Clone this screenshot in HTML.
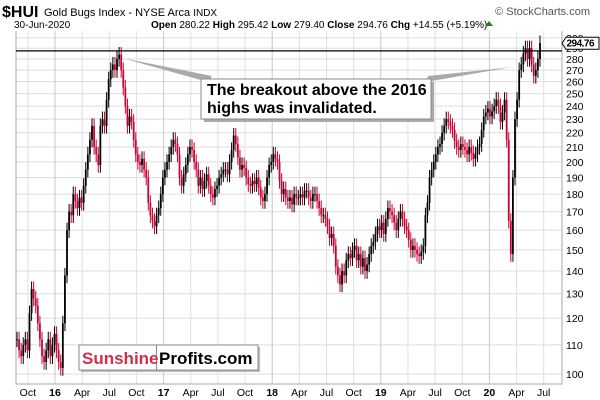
<!DOCTYPE html>
<html><head><meta charset="utf-8"><style>
body{margin:0;background:#fff;font-family:"Liberation Sans",sans-serif}
svg{display:block}
</style></head><body>
<svg id="c" width="600" height="400" font-family="Liberation Sans, sans-serif">
<text x="2" y="17" font-size="16" font-weight="bold">$HUI</text>
<text x="44" y="16" font-size="11">Gold Bugs Index - NYSE Arca <tspan font-size="10">INDX</tspan></text>
<text x="590" y="15" font-size="11" fill="#555" text-anchor="end">© StockCharts.com</text>
<text x="14" y="28" font-size="10">30-Jun-2020</text>
<text x="151" y="28" font-size="10"><tspan font-weight="bold">Open</tspan> 280.22 <tspan font-weight="bold">High</tspan> 295.42 <tspan font-weight="bold">Low</tspan> 279.40 <tspan font-weight="bold">Close</tspan> 294.76 <tspan font-weight="bold">Chg</tspan> +14.55 (+5.19%)</text>
<polygon points="485,26 489,21 493,26" fill="#2a7a2a"/>
<g id="grid"></g>
<g id="bars"></g>
<g id="axes"></g>
</svg>
<script>
const closes=[112,108,
106,110,112,108, 122,132,128,125,118, 112,106,104,108, 112,106,110,114,
108,104,102,118, 138,160,170,168, 180,176,172,178,175, 185,195,205,215, 225,210,205,198, 225,230,225,245, 262,270,275,270,280, 284,270,255,240, 225,232,228,215, 205,200,198,202,195, 190,175,168,165, 162,168,172,180,
190,195,200,205, 210,215,212,205, 190,185,192,198,205, 210,208,200,195, 185,190,183,188, 192,185,180,178,183, 185,190,192,195, 195,192,200,208, 218,212,203,195,198, 196,190,186,185, 188,186,190,184, 178,176,180,190,198,
200,205,202,200, 188,180,183,178, 176,178,174,180,178, 178,180,178,182, 182,178,176,180, 180,176,172,168,168, 166,162,156,158, 152,142,138,134,140, 138,145,148,146, 150,152,145,148, 142,146,140,143,148, 152,154,158,162,
160,164,158,166, 172,170,168,164, 160,166,170,166,162, 160,155,150,152, 150,148,147,149,152, 168,175,190,195, 200,205,210,212, 220,225,230,228,225, 222,214,210,208, 212,210,208,205, 210,206,202,205,210, 212,222,232,235,
238,232,236,240,245, 240,228,235,245, 215,165,148,190, 230,245,270,275, 285,290,280,290,275, 265,270,280,295];
const yTicks=[100,110,120,130,140,150,160,170,180,190,200,210,220,230,240,250,260,270,280,290,300];
const xTickDates=[-0.25,0,0.25,0.5,0.75,1,1.25,1.5,1.75,2,2.25,2.5,2.75,3,3.25,3.5,3.75,4,4.25,4.5];
const xTickLabels=["Oct","16","Apr","Jul","Oct","17","Apr","Jul","Oct","18","Apr","Jul","Oct","19","Apr","Jul","Oct","20","Apr","Jul"];
const lastClose=294.76, resistance=287.5;

const NS="http://www.w3.org/2000/svg";
const L=16,R=562,T=31,B=384;
const y=v=>374-306*Math.log(v/100);
const xd=d=>55+d*108.6;
const xi=i=>17+i*(540-17)/(closes.length-1);
function mk(tag,at,parent){const e=document.createElementNS(NS,tag);for(const k in at)e.setAttribute(k,at[k]);document.getElementById(parent).appendChild(e);return e;}

for(const v of yTicks){
  const yy=y(v);
  if(yy>=T&&yy<=B){
    const g=mk('line',{x1:L,x2:R,y1:yy,y2:yy,stroke:'#ddd','stroke-width':1},'grid');
    
    
  }
  const t=mk('text',{x:566,y:yy+4,'font-size':10.5},'axes');
  t.textContent=v;
  
  
}
xTickDates.forEach((d,i)=>{
  const xx=xd(d);
  const yr=/^\d/.test(xTickLabels[i]);
  const g=mk('line',{x1:xx,x2:xx,y1:T,y2:B,stroke:yr?'#c8c8c8':'#e0e0e0','stroke-width':1},'grid');
  
  
  const t=mk('text',{x:xx,y:396,'font-size':10.5,'text-anchor':'middle','font-weight':yr?'bold':'normal'},'axes');
  t.textContent=xTickLabels[i];
  
  
});
const fr=mk('path',{d:`M${L},${T} V${B} H${R} V${T}`,fill:'none',stroke:'#aaa','stroke-width':1},'grid');



closes.forEach((c,i)=>{
  const o=i?closes[i-1]:c;
  const hi=Math.max(o,c)*1.025, lo=Math.min(o,c)*0.975;
  const col=c<o?'#cc0033':'#000';
  const w=mk('rect',{x:xi(i)-0.5,y:y(hi),width:1,height:y(lo)-y(hi),fill:col},'bars');
  
  
  const b=mk('rect',{x:xi(i)-0.9,y:y(Math.max(o,c)),width:1.8,height:Math.max(1,y(Math.min(o,c))-y(Math.max(o,c))),fill:col},'bars');
  
  
});
const rl=mk('line',{x1:L,x2:R,y1:y(resistance),y2:y(resistance),stroke:'#000','stroke-width':1.2},'axes');


const lb=y(lastClose);
const lp=mk('path',{d:`M562,${lb} l4,-6 h33 v12 h-33 z`,fill:'#fff',stroke:'#000'},'axes');


const lt=mk('text',{x:566.5,y:lb+3.5,'font-size':10,'font-weight':'bold','textLength':28},'axes');
lt.textContent=lastClose.toFixed(2);


</script>
<svg width="600" height="400" style="position:absolute;left:0;top:0">
<polygon points="122,58 208,82 212,76" fill="#aaa"/>
<polygon points="512,67 426,82 428,76" fill="#aaa"/>
<rect x="204" y="82" width="230" height="40" fill="#aaa"/>
<rect x="201" y="79" width="230" height="40" fill="#fff" stroke="#888"/>
<text x="207" y="95" font-size="16" font-weight="bold" font-family="Liberation Sans, sans-serif">The breakout above the 2016</text>
<text x="207" y="113" font-size="16" font-weight="bold" font-family="Liberation Sans, sans-serif">highs was invalidated.</text>
<rect x="81" y="347" width="179" height="25" fill="#bbb"/>
<rect x="79" y="345" width="179" height="25" fill="#fff" stroke="#888"/>
<line x1="156.5" y1="345" x2="156.5" y2="370" stroke="#888"/>
<text x="82" y="364" font-size="17" font-weight="bold" fill="#d03048" font-family="Liberation Sans, sans-serif">Sunshine</text>
<text x="159" y="364" font-size="17" font-weight="bold" fill="#000" font-family="Liberation Sans, sans-serif">Profits.com</text>
</svg>
</body></html>
